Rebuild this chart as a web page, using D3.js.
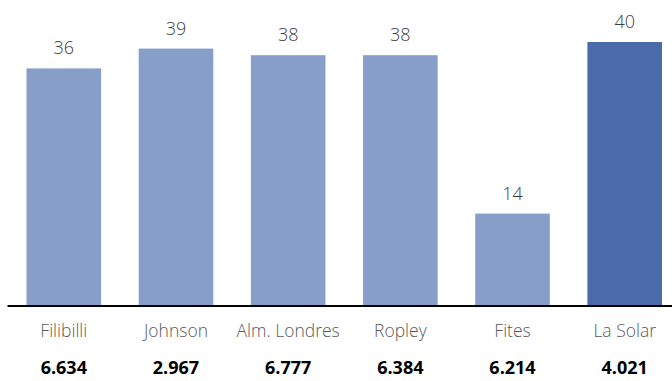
<!DOCTYPE html>
<html>
<head>
<meta charset="utf-8">
<script src="https://cdn.jsdelivr.net/npm/d3@7"></script>
<style>
  body { margin: 0; background: #fff; }
  svg { display: block; font-family: "Open Sans", sans-serif; }
</style>
</head>
<body>
<div class="canvas"></div>
<script>
// data
const names = ['Filibilli', 'Johnson', 'Alm. Londres', 'Ropley', 'Fites', 'La Solar'];
const values = [36, 39, 38, 38, 14, 40];
const totals = ['6.634', '2.967', '6.777', '6.384', '6.214', '4.021'];
const highlight = 'La Solar';

const width = 672;
const height = 381;

const svg = d3.select('.canvas')
                .append('svg')
                .attr('width', width)
                .attr('height', height);

// baseline sits at y=306
const baseY = 306;

const x = d3.scaleBand()
            .domain(names)
            .range([26.5, 662])
            .paddingInner(0.335)
            .paddingOuter(0);

const y = d3.scaleLinear()
            .domain([0, 40])
            .range([baseY, 42]);

const data = names.map((n, i) => ({ name: n, value: values[i], total: totals[i] }));

// bars
svg.selectAll('rect.bar')
    .data(data)
    .enter()
    .append('rect')
    .attr('class', 'bar')
    .attr('x', d => x(d.name))
    .attr('y', d => y(d.value))
    .attr('width', x.bandwidth())
    .attr('height', d => baseY - y(d.value))
    .attr('fill', d => d.name === highlight ? '#4a6aaa' : '#879fc8');

// value labels above bars
svg.selectAll('text.val')
    .data(data)
    .enter()
    .append('text')
    .attr('class', 'val')
    .attr('x', d => x(d.name) + x.bandwidth() / 2)
    .attr('y', d => y(d.value) - 14)
    .attr('text-anchor', 'middle')
    .attr('font-size', 18)
    .attr('font-weight', 300)
    .attr('fill', '#404040')
    .text(d => d.value);

// x axis (line + names)
const xAxis = d3.axisBottom(x).tickSize(0).tickPadding(0);
const xAxisGroup = svg.append('g')
                        .attr('transform', `translate(0, ${baseY})`)
                        .call(xAxis);
xAxisGroup.select('.domain').remove();
xAxisGroup.selectAll('text')
    .attr('y', 31)
    .attr('dy', 0)
    .attr('font-family', '"Open Sans", sans-serif')
    .attr('font-size', 17.5)
    .attr('font-weight', 300)
    .attr('fill', '#595959');

svg.append('line')
    .attr('x1', 7.5)
    .attr('x2', width)
    .attr('y1', baseY)
    .attr('y2', baseY)
    .attr('stroke', '#000')
    .attr('stroke-width', 2);

// bold totals under the names
svg.selectAll('text.tot')
    .data(data)
    .enter()
    .append('text')
    .attr('class', 'tot')
    .attr('x', d => x(d.name) + x.bandwidth() / 2)
    .attr('y', 374)
    .attr('text-anchor', 'middle')
    .attr('font-size', 18)
    .attr('font-weight', 'bold')
    .attr('fill', '#000')
    .text(d => d.total);
</script>
</body>
</html>
